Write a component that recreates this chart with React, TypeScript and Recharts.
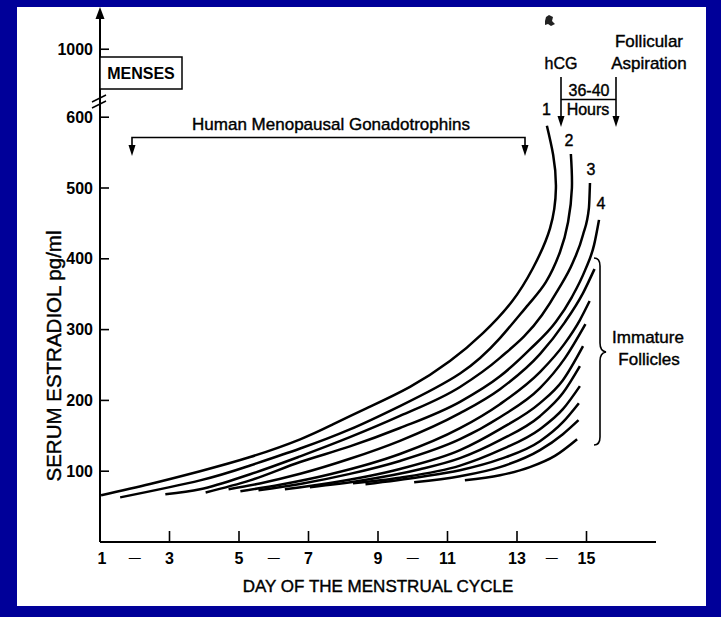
import React from 'react';
import { LineChart, Line, XAxis, YAxis } from 'recharts';

// axis ticks (the top y tick sits above the axis break and reads 1000)
const X_TICKS = [1, 2, 3, 5, 6, 7, 9, 10, 11, 13, 14, 15];
const X_TICK_LABELS = ['1', '—', '3', '5', '—', '7', '9', '—', '11', '13', '—', '15'];
const Y_TICKS = [100, 200, 300, 400, 500, 600, 696];
const Y_TICK_LABELS = ['100', '200', '300', '400', '500', '600', '1000'];

// [day of cycle, serum estradiol pg/ml]
const FOLLICLE_1 = [[1.03, 66], [2.44, 82], [3.88, 100], [5.32, 120], [6.76, 145], [7.7, 166], [8.68, 189], [9.92, 219], [11.07, 255.5], [12.02, 295], [12.86, 340], [13.46, 387], [13.95, 443], [14.12, 500], [14.04, 547], [13.86, 588]];
const FOLLICLE_2 = [[1.58, 63], [3.88, 87], [5.32, 108], [6.76, 132], [8.19, 159], [9.63, 192], [11.36, 238], [12.51, 288], [13.32, 335], [13.83, 367], [14.24, 410], [14.47, 452], [14.58, 500], [14.55, 548]];
const FOLLICLE_3 = [[2.88, 67.5], [3.88, 74.5], [5.32, 95.7], [6.76, 121], [8.19, 148], [9.63, 178], [11.36, 219], [12.51, 260], [13.72, 320.5], [14.18, 356], [14.61, 395], [14.9, 434], [15.07, 472], [15.1, 507]];
const FOLLICLE_4 = [[4.04, 70], [5.32, 87], [6.76, 113], [8.19, 135], [9.63, 161], [11.36, 198], [12.51, 234], [13.37, 272], [14.12, 311], [14.58, 346], [14.96, 384], [15.22, 420], [15.36, 455]];
const IMMATURE_1 = [[4.7, 74.5], [5.6, 82.7], [6.76, 96.3], [8.19, 117.5], [9.63, 142.9], [11.36, 182], [12.51, 215.9], [13.66, 265.4], [14.38, 310.6], [14.9, 351.6], [15.23, 385.5]];
const IMMATURE_2 = [[5.04, 71.7], [6.18, 80.8], [7.62, 95.6], [9.63, 124.3], [11.36, 160.8], [12.51, 194.7], [13.66, 240], [14.38, 280.9], [14.81, 313.5], [15.09, 340.3]];
const IMMATURE_3 = [[5.56, 73.1], [6.76, 82], [8.19, 96.2], [9.63, 114.5], [11.36, 145.2], [12.51, 176.3], [13.66, 217.3], [14.38, 259.7], [14.97, 307.8]];
const IMMATURE_4 = [[6.32, 74.5], [7.62, 83.4], [9.63, 103.2], [11.36, 129.7], [12.51, 159.4], [13.66, 196.1], [14.32, 228.6], [14.9, 276.7]];
const IMMATURE_5 = [[7.04, 77.4], [8.48, 86.5], [10.21, 102.7], [11.36, 118.4], [12.51, 143.8], [13.66, 177.7], [14.32, 210.3], [14.81, 248.4]];
const IMMATURE_6 = [[8.28, 83], [9.63, 90.9], [11.36, 107.9], [12.51, 129.7], [13.66, 159.4], [14.32, 187.6], [14.81, 220.2]];
const IMMATURE_7 = [[8.64, 81.6], [10.21, 91.8], [11.36, 101.4], [12.51, 117], [13.66, 142.4], [14.32, 169.3], [14.78, 196.1]];
const IMMATURE_8 = [[10.04, 84.4], [11.36, 92.9], [12.51, 105.7], [13.66, 129.7], [14.32, 152.3], [14.77, 172.1]];
const IMMATURE_9 = [[11.5, 87.3], [12.51, 94.2], [13.37, 105.7], [14.09, 121.6], [14.73, 145.2]];

// the two leading follicles curl back at the top, so they need a parametric spline
const CURVES = [
  { pts: FOLLICLE_1, kind: 'natural' },
  { pts: FOLLICLE_2, kind: 'natural' },
  { pts: FOLLICLE_3, kind: 'monotone' },
  { pts: FOLLICLE_4, kind: 'monotone' },
  { pts: IMMATURE_1, kind: 'monotone' },
  { pts: IMMATURE_2, kind: 'monotone' },
  { pts: IMMATURE_3, kind: 'monotone' },
  { pts: IMMATURE_4, kind: 'monotone' },
  { pts: IMMATURE_5, kind: 'monotone' },
  { pts: IMMATURE_6, kind: 'monotone' },
  { pts: IMMATURE_7, kind: 'monotone' },
  { pts: IMMATURE_8, kind: 'monotone' },
  { pts: IMMATURE_9, kind: 'monotone' },
].map((c) => ({ kind: c.kind, data: c.pts.map(([d, v]) => ({ d, v })) }));

const W = 721;
const H = 617;
const FONT = '"Liberation Sans", Arial, Helvetica, sans-serif';

const XTick = (props: any) => {
  const { x, y, payload } = props;
  const label = X_TICK_LABELS[X_TICKS.indexOf(payload.value)];
  const dash = label === '—';
  return (
    <g>
      {!dash && payload.value > 1 && (
        <line x1={x} y1={y} x2={x} y2={y - 11} stroke="#000" strokeWidth={1.6} />
      )}
      <text x={dash ? x : x + (payload.value === 1 ? 2 : 0)} y={y + 16} textAnchor="middle" dominantBaseline="central"
        fontSize={dash ? 12 : 16} fontWeight={dash ? 400 : 700} fontFamily={FONT} fill="#000">
        {label}
      </text>
    </g>
  );
};

const YTick = (props: any) => {
  const { x, y, payload } = props;
  const label = Y_TICK_LABELS[Y_TICKS.indexOf(payload.value)];
  return (
    <g>
      <line x1={x} y1={y} x2={x + 9} y2={y} stroke="#000" strokeWidth={1.6} />
      <text x={x - 7} y={y} textAnchor="end" dominantBaseline="central"
        fontSize={16} fontWeight={700} fontFamily={FONT} fill="#000">
        {label}
      </text>
    </g>
  );
};

// scanned print is a little heavier than a regular face
const txt = { fontFamily: FONT, fill: '#000', stroke: '#000', strokeWidth: 0.4 };

// hand-placed annotations: axis arrow, break, boxes, brackets and titles
const Overlay = () => (
  <svg width={W} height={H} style={{ position: 'absolute', left: 0, top: 0, pointerEvents: 'none' }}>
    {/* axis arrowhead and break */}
    <path d="M100,7 L95.5,19 L104.5,19 Z" fill="#000" />
    <line x1={92} y1={102} x2={106} y2={95} stroke="#000" strokeWidth={1.5} />
    <line x1={92} y1={108} x2={106} y2={101} stroke="#000" strokeWidth={1.5} />
    {/* MENSES box */}
    <rect x={100} y={57} width={82} height={32} fill="#fff" stroke="#000" strokeWidth={1.5} />
    <text x={141} y={73} textAnchor="middle" dominantBaseline="central" fontSize={16} fontWeight={700} fontFamily={FONT} fill="#000">MENSES</text>
    {/* HMG bracket */}
    <text x={331} y={130} textAnchor="middle" fontSize={17} {...txt}>Human Menopausal Gonadotrophins</text>
    <path d="M132,147 V137.5 H525 V147" fill="none" stroke="#000" strokeWidth={1.6} />
    <path d="M128.5,145 L132,156 L135.5,145 Z" fill="#000" />
    <path d="M521.5,145 L525,156 L528.5,145 Z" fill="#000" />
    {/* hCG / aspiration */}
    <path d="M546,17 l3,-2 l4,2 l-1,4 l3,3 l-4,2 l-3,-2 l-3,1 l0,-4 Z" fill="#222" />
    <text x={649} y={46.5} textAnchor="middle" fontSize={17} {...txt}>Follicular</text>
    <text x={649} y={68.5} textAnchor="middle" fontSize={17} {...txt}>Aspiration</text>
    <text x={561} y={69} textAnchor="middle" fontSize={16} {...txt}>hCG</text>
    <line x1={561} y1={77} x2={561} y2={118} stroke="#000" strokeWidth={1.6} />
    <line x1={616} y1={77} x2={616} y2={118} stroke="#000" strokeWidth={1.6} />
    <line x1={561} y1={99.5} x2={616} y2={99.5} stroke="#000" strokeWidth={1.6} />
    <path d="M557.5,116 L561,127 L564.5,116 Z" fill="#000" />
    <path d="M612.5,116 L616,127 L619.5,116 Z" fill="#000" />
    <text x={589} y={96} textAnchor="middle" fontSize={16} {...txt}>36-40</text>
    <text x={588} y={115} textAnchor="middle" fontSize={16} {...txt}>Hours</text>
    {/* curve numbers */}
    <text x={546.5} y={115} textAnchor="middle" fontSize={16} {...txt}>1</text>
    <text x={569} y={146} textAnchor="middle" fontSize={16} {...txt}>2</text>
    <text x={591} y={175} textAnchor="middle" fontSize={16} {...txt}>3</text>
    <text x={601} y={209} textAnchor="middle" fontSize={16} {...txt}>4</text>
    {/* immature follicles brace */}
    <path d="M594,258 Q600,258 600,266 L600,343 Q600,351 606,352 Q600,353 600,361 L600,437 Q600,445 594,445"
      fill="none" stroke="#000" strokeWidth={1.6} />
    <text x={648} y={343} textAnchor="middle" fontSize={17} {...txt}>Immature</text>
    <text x={649} y={365} textAnchor="middle" fontSize={17} {...txt}>Follicles</text>
    {/* axis titles */}
    <text x={378} y={592} textAnchor="middle" fontSize={17} {...txt}>DAY OF THE MENSTRUAL CYCLE</text>
    <text x={61} y={356} textAnchor="middle" fontSize={20.5} transform="rotate(-90, 61, 356)" {...txt}>SERUM ESTRADIOL pg/ml</text>
  </svg>
);

export default function App() {
  return (
    <div style={{ position: 'absolute', left: 0, top: 0, width: W, height: H, background: '#000099', overflow: 'hidden' }}>
      <div style={{ position: 'absolute', left: 17, top: 7, width: 689, height: 599, background: '#fff' }} />
      <LineChart width={W} height={H} margin={{ top: 11, right: 65, bottom: 45, left: 40 }}
        style={{ position: 'absolute', left: 0, top: 0 }}>
        <XAxis type="number" dataKey="d" domain={[1, 17]} ticks={X_TICKS} interval={0}
          tick={(p: any) => <XTick {...p} />} tickLine={false} tickSize={0} tickMargin={0}
          height={30} axisLine={{ stroke: '#000', strokeWidth: 2 }} allowDataOverflow />
        <YAxis type="number" domain={[0, 750]} ticks={Y_TICKS} interval={0}
          tick={(p: any) => <YTick {...p} />} tickLine={false} tickSize={0} tickMargin={0}
          width={60} axisLine={{ stroke: '#000', strokeWidth: 2 }} allowDataOverflow />
        {CURVES.map((c, i) => (
          <Line key={i} data={c.data} dataKey="v" type={c.kind as any} dot={false} stroke="#000"
            strokeWidth={2.5} isAnimationActive={false} />
        ))}
      </LineChart>
      <Overlay />
    </div>
  );
}
